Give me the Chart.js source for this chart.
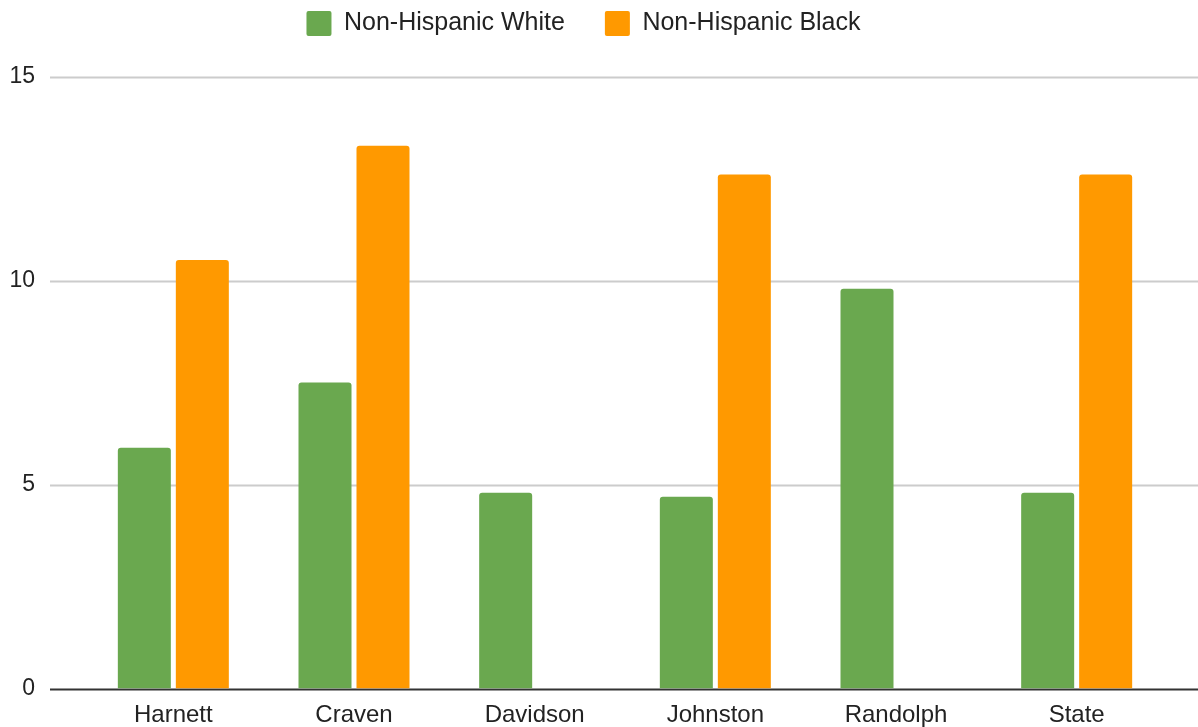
<!DOCTYPE html>
<html>
<head>
<meta charset="utf-8">
<script src="https://cdn.jsdelivr.net/npm/chart.js@4/dist/chart.umd.min.js"></script>
<style>
  html, body { margin: 0; padding: 0; background: #fff; }
  #wrap { width: 1198px; height: 727px; }
</style>
</head>
<body>
<div id="wrap"><canvas id="chart"></canvas></div>
<script>
// Chart data
const counties = ['Harnett', 'Craven', 'Davidson', 'Johnston', 'Randolph', 'State'];
const whiteRates = [5.9, 7.5, 4.8, 4.7, 9.8, 4.8];
const blackRates = [10.5, 13.3, null, 12.6, null, 12.6];
const yTicks = [0, 5, 10, 15];

const FONT = '"Liberation Sans", Arial, sans-serif';

// Google-style gridlines that run past the plot area on both sides
const wideGrid = {
  id: 'wideGrid',
  beforeDatasetsDraw(chart) {
    const { ctx, scales: { y } } = chart;
    ctx.save();
    yTicks.forEach(v => {
      const py = Math.round(y.getPixelForValue(v)) + 0.5;
      ctx.beginPath();
      ctx.moveTo(50, py);
      ctx.lineTo(chart.width, py);
      ctx.strokeStyle = v === 0 ? '#333333' : '#cccccc';
      ctx.lineWidth = 2;
      ctx.stroke();
    });
    ctx.restore();
  }
};

// Extra room below the legend
const legendGap = {
  id: 'legendGap',
  beforeInit(chart) {
    const fit = chart.legend.fit;
    chart.legend.fit = function() {
      fit.bind(chart.legend)();
      this.height += 30.5;
    };
  }
};

new Chart(document.getElementById('chart'), {
  type: 'bar',
  data: {
    labels: counties,
    datasets: [
      {
        label: 'Non-Hispanic White',
        data: whiteRates,
        backgroundColor: '#6aa84f',
        borderRadius: 3,
        borderSkipped: 'start',
        barPercentage: 0.914,
        categoryPercentage: 0.642
      },
      {
        label: 'Non-Hispanic Black',
        data: blackRates,
        backgroundColor: '#ff9900',
        borderRadius: 3,
        borderSkipped: 'start',
        barPercentage: 0.914,
        categoryPercentage: 0.642
      }
    ]
  },
  options: {
    responsive: true,
    maintainAspectRatio: false,
    animation: false,
    layout: {
      padding: { top: -29, right: 31, bottom: 0, left: 0 }
    },
    plugins: {
      legend: {
        position: 'top',
        labels: {
          boxWidth: 25,
          boxHeight: 25,
          useBorderRadius: true,
          borderRadius: 2,
          padding: 40,
          color: '#222222',
          font: { family: FONT, size: 25 }
        }
      },
      tooltip: { enabled: false }
    },
    scales: {
      x: {
        afterFit(scale) { scale.height = 38.5; },
        grid: { display: false, drawTicks: false },
        border: { display: false },
        ticks: {
          color: '#222222',
          padding: 12,
          font: { family: FONT, size: 24 }
        }
      },
      y: {
        min: 0,
        max: 15,
        afterFit(scale) {
          scale.width = 83;
          scale.paddingTop = 0;
          scale.paddingBottom = 0;
        },
        afterBuildTicks(scale) { scale.ticks = yTicks.map(v => ({ value: v })); },
        grid: { display: false, drawTicks: false },
        border: { display: false },
        ticks: {
          color: '#222222',
          padding: 48,
          font: { family: FONT, size: 23 }
        }
      }
    }
  },
  plugins: [wideGrid, legendGap]
});
</script>
</body>
</html>
